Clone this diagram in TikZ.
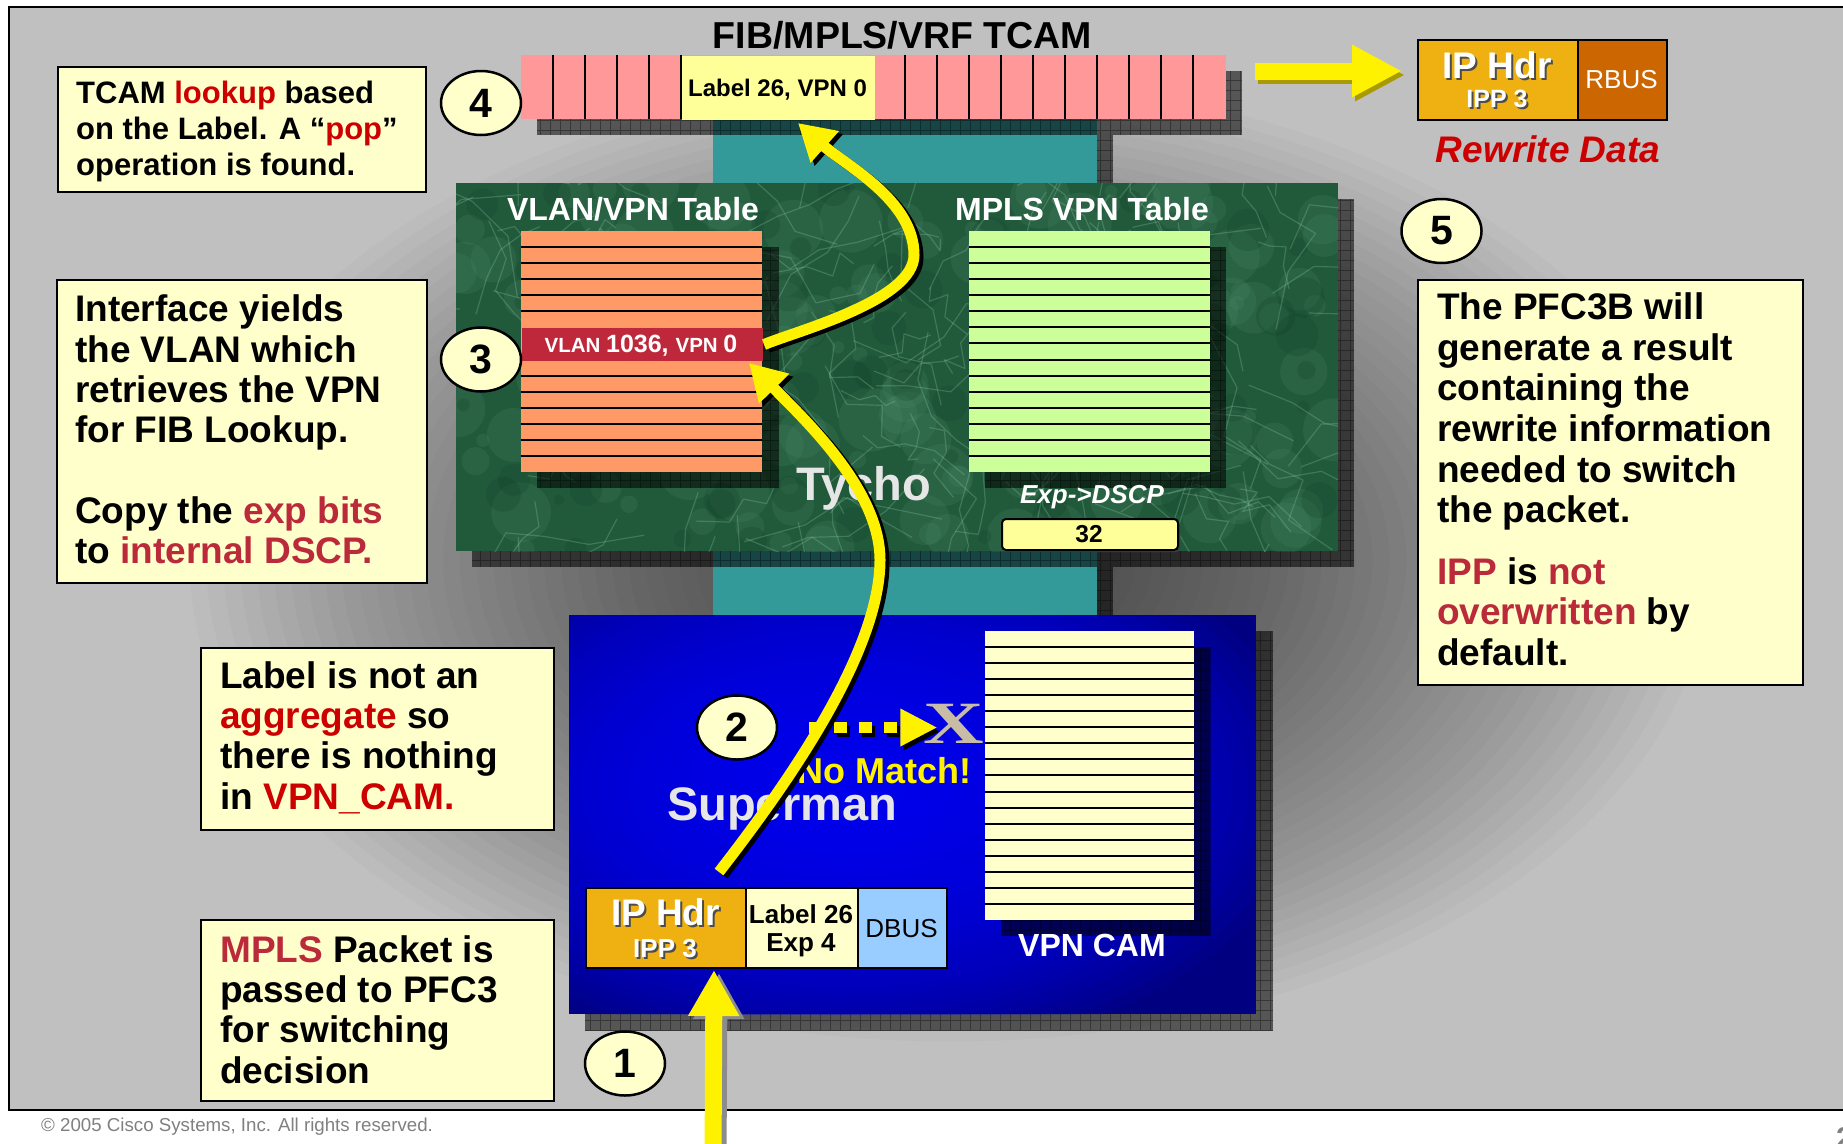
\documentclass[tikz,border=0pt]{standalone}
\usepackage{fontspec}
\usepackage{graphicx}
\setmainfont{Liberation Sans}
\newfontfamily\serifface{Liberation Serif}
\usetikzlibrary{shapes.geometric,arrows.meta,calc}

\definecolor{slidegray}{HTML}{C0C0C0}
\definecolor{notefill}{HTML}{FFFFCC}
\definecolor{channel}{HTML}{339999}
\definecolor{tcampink}{HTML}{FF9999}
\definecolor{cellyellow}{HTML}{FFFF99}
\definecolor{vlanorange}{HTML}{FF9966}
\definecolor{vlanred}{HTML}{BE283A}
\definecolor{mplsgreen}{HTML}{CCFF99}
\definecolor{hdrgold}{HTML}{EEB111}
\definecolor{rbusorange}{HTML}{CC6600}
\definecolor{dbusblue}{HTML}{99CCFF}
\definecolor{hotred}{HTML}{CC0000}
\definecolor{deepred}{HTML}{BB2A3A}
\definecolor{marble}{HTML}{215A3B}
\definecolor{marblelight}{HTML}{5FA080}
\definecolor{marbledark}{HTML}{123D26}
\definecolor{marblevein}{HTML}{8CC8A8}
\definecolor{boardtext}{HTML}{E6E6E6}
\definecolor{xtan}{HTML}{C8BCA6}
\definecolor{outshadow}{HTML}{A89A00}
\definecolor{footgray}{HTML}{808080}
\definecolor{boardnavy}{RGB}{0,0,128}
\definecolor{boardblue}{RGB}{0,0,255}

\newcommand\fs[2]{\fontsize{#1}{#2}\selectfont}
% checkered drop shadow behind a block
\newcommand\gridshade[2]{%
  \fill[black,opacity=.55] #1 rectangle #2;
  \draw[black,opacity=.35,line width=.7pt,step=10pt] #1 grid #2;}

\tikzset{
  notebox/.style={draw=black, line width=2pt, fill=notefill, anchor=north west, inner sep=0pt},
  notetext/.style={anchor=base west, inner sep=0pt, align=left, font=\bfseries\fs{37}{40.3}},
  stepnum/.style={ellipse, draw=black, line width=2.5pt, fill=notefill, minimum width=80pt,
    minimum height=64pt, inner sep=0pt, font=\bfseries\fs{41}{41}},
  cellbox/.style={draw=black, line width=2pt, anchor=north west, inner sep=0pt},
  tabline/.style={black, line width=2pt},
  basetext/.style={anchor=base, inner sep=0pt},
  leftbase/.style={anchor=base west, inner sep=0pt},
  flowline/.style={yellow, line width=11pt, -{Triangle[width=40pt,length=36pt]}},
  flowshade/.style={black, line width=11pt, -{Triangle[width=40pt,length=36pt]},
    transform canvas={shift={(4pt,-3pt)}}},
  dotflow/.style={yellow, line width=11pt, dash pattern=on 13pt off 12pt,
    -{Triangle[width=35pt,length=37pt]}},
  dotshade/.style={dotflow, black, transform canvas={shift={(3pt,-4pt)}}},
  bigflow/.style={yellow, line width=17pt, -{Triangle[width=48pt,length=46pt]}},
  bigshade/.style={bigflow, black!45, transform canvas={shift={(5pt,-3pt)}}},
  outflow/.style={yellow, line width=17pt, -{Triangle[width=49pt,length=50pt]}},
  outshade/.style={outflow, outshadow, transform canvas={shift={(3pt,-4pt)}}},
}

\begin{document}
\begin{tikzpicture}[x=1pt,y=-1pt]
\useasboundingbox (0,0) rectangle (1843,1143);
\clip (0,0) rectangle (1843,1143);
\fill[white] (0,0) rectangle (1843,1143);

% slide area with the soft shadow cast by the boards
\begin{scope}
  \clip (9,7) rectangle (1860,1110);
  \fill[slidegray] (9,7) rectangle (1860,1110);
  \foreach \k in {1,...,45}{
    \fill[black,opacity=0.019] (950,560) ellipse ({16.9pt*\k} and {10.7pt*\k});
  }
\end{scope}
\draw[line width=2.5pt] (1860,7) -- (9,7) -- (9,1110) -- (1860,1110);

% channels between the chips
\fill[channel] (713,119) rectangle (1097,183);
\fill[channel] (713,551) rectangle (1097,615);
\gridshade{(1097,135)}{(1113,183)}
\gridshade{(1097,567)}{(1113,615)}

% FIB/MPLS/VRF TCAM
\gridshade{(537,71)}{(1242,135)}
\fill[tcampink] (521,55) rectangle (1226,119);
\node[cellbox, draw=none, fill=cellyellow, minimum width=193pt, minimum height=64pt] (tcamhit) at (681,55) {};
\foreach \x in {553,585,617,649,681,905,937,...,1193} \draw[tabline] (\x,55) -- (\x,119);
\node[basetext, font=\bfseries\fs{24}{28}] (tcamtxt) at (777.5,96) {Label 26, VPN 0};
\node[basetext, font=\bfseries\fs{37.5}{40}] (tcamtitle) at (902.5,48) {FIB/MPLS/VRF TCAM};

% Tycho board
\gridshade{(472,199)}{(1354,567)}
\begin{scope}
  \clip (456,183) rectangle (1338,551);
  \fill[marble] (456,183) rectangle (1338,551);
  \pgfmathsetseed{2005}
  \foreach \i in {1,...,160}{
    \pgfmathsetmacro\ax{456+882*rnd}
    \pgfmathsetmacro\ay{183+368*rnd}
    \pgfmathsetmacro\ar{6+26*rnd}
    \fill[marblelight, opacity=0.13] (\ax,\ay) circle (\ar pt);
  }
  \foreach \i in {1,...,90}{
    \pgfmathsetmacro\ax{456+882*rnd}
    \pgfmathsetmacro\ay{183+368*rnd}
    \pgfmathsetmacro\ar{5+18*rnd}
    \fill[marbledark, opacity=0.22] (\ax,\ay) circle (\ar pt);
  }
  \foreach \i in {1,...,140}{
    \pgfmathsetmacro\ax{456+882*rnd}
    \pgfmathsetmacro\ay{183+368*rnd}
    \pgfmathsetmacro\aa{360*rnd}
    \pgfmathsetmacro\al{20+45*rnd}
    \draw[marblevein, opacity=0.28, line width=1.2pt, line join=round]
      (\ax,\ay) -- ++(\aa:\al) -- ++({\aa+80*rand}:{0.8*\al}) -- ++({\aa+80*rand}:{0.7*\al})
      -- ++({\aa+80*rand}:{0.5*\al});
  }
\end{scope}

% VLAN/VPN table
\gridshade{(537,247)}{(779,488)}
\fill[vlanorange] (521,231) rectangle (762,472);
\foreach \y in {247,263,279,295,311,376,392,408,424,440,456} \draw[tabline] (521,\y) -- (762,\y);
\node[cellbox, draw=none, fill=vlanred, minimum width=241pt, minimum height=33pt] (vlanhit) at (521,327) {};
\node[basetext, text=white, font=\bfseries] (vlantxt) at (641,352)
  {\fs{20.5}{24}VLAN \fs{25}{28}1036, \fs{20.5}{24}VPN \fs{25}{28}0};

% MPLS VPN table
\gridshade{(985,247)}{(1226,488)}
\fill[mplsgreen] (969,231) rectangle (1210,472);
\foreach \k in {1,...,14} \draw[tabline] (969,{231+16.07*\k}) -- (1210,{231+16.07*\k});

\node[basetext, text=white, font=\bfseries\fs{32}{36}] (vlantitle) at (633,220) {VLAN/VPN Table};
\node[basetext, text=white, font=\bfseries\fs{32}{36}] (mplstitle) at (1082,220) {MPLS VPN Table};
\node[leftbase, text=boardtext, font=\bfseries\fs{47}{50}] (tycho) at (796,500) {Tycho};
\node[basetext, text=white, font=\bfseries\itshape\fs{26}{30}] (expdscp) at (1092,503) {Exp->DSCP};
\fill[black!75, rounded corners=4pt] (1004,521) rectangle (1180,552);
\node[cellbox, rounded corners=4pt, fill=cellyellow, minimum width=176pt, minimum height=31pt] (dscpval) at (1001,518) {};
\node[basetext, font=\bfseries\fs{24.5}{28}] (dscptxt) at (1089,542) {32};

% Superman board: navy edges brightening to blue in the middle
\gridshade{(585,631)}{(1273,1031)}
\begin{scope}
  \clip (569,615) rectangle (1256,1014);
  \fill[boardnavy] (569,615) rectangle (1256,1014);
  \foreach \k in {30,...,1}{
    \fill[boardblue,opacity=0.075] (845,785) ellipse ({15.5pt*\k} and {9.2pt*\k});
  }
\end{scope}

% VPN CAM
\gridshade{(1001,647)}{(1210,936)}
\fill[notefill] (985,631) rectangle (1194,920);
\foreach \k in {1,...,17} \draw[tabline] (985,{631+16.05*\k}) -- (1194,{631+16.05*\k});
\node[basetext, text=white, font=\bfseries\fs{32}{36}] (camlabel) at (1092,956) {VPN CAM};

\node[leftbase, text=boardtext, font=\bfseries\fs{47}{50}] (superman) at (667,820) {Superman};
\node[leftbase, text=yellow, font=\bfseries\fs{36}{40}] (nomatch) at (797,783) {No Match!};
\node[basetext, text=xtan, font=\serifface\bfseries\fs{60}{60}] (xmark) at (954,743) {\scalebox{1.4}[1]{X}};

% incoming packet on the DBUS
\node[cellbox, fill=hdrgold, minimum width=160pt, minimum height=80pt] (pkthdr) at (585,887) {};
\node[cellbox, fill=notefill, minimum width=112pt, minimum height=80pt] (pktlabel) at (745,887) {};
\node[cellbox, fill=dbusblue, minimum width=89pt, minimum height=80pt] (pktbus) at (857,887) {};
\node[basetext, text=black!70, font=\bfseries\fs{37}{40}] (pkthdrsh) at (667.5,927) {IP Hdr};
\node[basetext, text=white, font=\bfseries\fs{37}{40}] (pkthdrtxt) at (665.5,925) {IP Hdr};
\node[basetext, text=black!70, font=\bfseries\fs{26}{30}] (pktippsh) at (667,959) {IPP 3};
\node[basetext, text=white, font=\bfseries\fs{26}{30}] (pktipp) at (665,957) {IPP 3};
\node[basetext, font=\bfseries\fs{26}{30}] (pktlbl) at (801,923) {Label 26};
\node[basetext, font=\bfseries\fs{26}{30}] (pktexp) at (801,951) {Exp 4};
\node[basetext, font=\fs{26}{30}] (pktbustxt) at (901.5,937) {DBUS};

% rewrite result on the RBUS
\node[cellbox, fill=hdrgold, minimum width=160pt, minimum height=80pt] (rwhdr) at (1417,39) {};
\node[cellbox, fill=rbusorange, minimum width=89pt, minimum height=80pt] (rwbus) at (1577,39) {};
\node[basetext, text=black!70, font=\bfseries\fs{37}{40}] (rwhdrsh) at (1499,80) {IP Hdr};
\node[basetext, text=white, font=\bfseries\fs{37}{40}] (rwhdrtxt) at (1497,78) {IP Hdr};
\node[basetext, text=black!70, font=\bfseries\fs{25}{30}] (rwippsh) at (1499,109) {IPP 3};
\node[basetext, text=white, font=\bfseries\fs{25}{30}] (rwipp) at (1497,107) {IPP 3};
\node[basetext, text=white, font=\fs{26}{30}] (rwbustxt) at (1621.5,88) {RBUS};
\node[basetext, text=hotred, font=\bfseries\itshape\fs{37}{40}] (rwcaption) at (1548,162) {Rewrite Data};

% explanatory notes (text nodes are placed by the baseline of their last line)
\node[notebox, minimum width=368pt, minimum height=125pt] (note4) at (57,66) {};
\node[notetext, font=\bfseries\fs{31}{36}] (note4txt) at (76,175)
  {TCAM \textcolor{hotred}{lookup} based\\on the Label. A “\textcolor{hotred}{pop}”\\operation is found.};
\node[notebox, minimum width=370pt, minimum height=303pt] (note3) at (56,279) {};
\node[notetext] (note3txt) at (75,563.5)
  {Interface yields\\the VLAN which\\retrieves the VPN\\for FIB Lookup.\\[40.3pt]Copy the \textcolor{deepred}{exp bits}\\to \textcolor{deepred}{internal DSCP.}};
\node[notebox, minimum width=353pt, minimum height=182pt] (note2) at (200,647) {};
\node[notetext] (note2txt) at (220,809)
  {Label is not an\\\textcolor{hotred}{aggregate} so\\there is nothing\\in \textcolor{hotred}{VPN\_CAM.}};
\node[notebox, minimum width=353pt, minimum height=181pt] (note1) at (200,919) {};
\node[notetext] (note1txt) at (220,1083)
  {\textcolor{deepred}{MPLS} Packet is\\passed to PFC3\\for switching\\decision};
\node[notebox, minimum width=385pt, minimum height=405pt] (note5) at (1417,279) {};
\node[notetext, font=\bfseries\fs{37}{40.6}] (note5txt) at (1437,665.5)
  {The PFC3B will\\generate a result\\containing the\\rewrite information\\needed to switch\\the packet.\\[21pt]\textcolor{deepred}{IPP} is \textcolor{deepred}{not}\\\textcolor{deepred}{overwritten} by\\default.};

% step markers
\node[stepnum] (c4) at (481,103) {4};
\node[stepnum] (c3) at (481,359.5) {3};
\node[stepnum] (c2) at (737,727.5) {2};
\node[stepnum] (c1) at (625,1063.5) {1};
\node[stepnum] (c5) at (1441.5,231) {5};

% packet flow
\coordinate (inlet) at (713,1160);
\coordinate (tcamout) at (1255,71);
\draw[bigshade] (inlet) -- ($(pkthdr.south)+(48,1)$);
\draw[bigflow] (inlet) -- ($(pkthdr.south)+(48,1)$);

\draw[dotshade] ($(c2.east)+(31,0)$) -- ($(c2.east -| xmark.west)+(14,0)$);
\draw[dotflow] ($(c2.east)+(31,0)$) -- ($(c2.east -| xmark.west)+(14,0)$);

\draw[flowshade] ($(pkthdr.north)+(53,-15)$) .. controls (770,806) and (880,660) .. (880,560)
  .. controls (880,490) and (805,420) .. ($(vlanhit.south east)+(-15,1)$);
\draw[flowline] ($(pkthdr.north)+(53,-15)$) .. controls (770,806) and (880,660) .. (880,560)
  .. controls (880,490) and (805,420) .. ($(vlanhit.south east)+(-15,1)$);

\draw[flowshade] (vlanhit.east) .. controls (800,330) and (914,300) .. (914,255)
  .. controls (914,200) and (845,165) .. ($(tcamhit.south)+(19.5,2)$);
\draw[flowline] (vlanhit.east) .. controls (800,330) and (914,300) .. (914,255)
  .. controls (914,200) and (845,165) .. ($(tcamhit.south)+(19.5,2)$);

\draw[outshade] (tcamout) -- ($(rwhdr.west |- tcamout)+(-15,0)$);
\draw[outflow] (tcamout) -- ($(rwhdr.west |- tcamout)+(-15,0)$);

% footer
\node[leftbase, text=footgray, font=\fs{18.7}{22}] (copyright) at (41,1131) {© 2005 Cisco Systems, Inc. All rights reserved.};
\node[leftbase, text=footgray, font=\bfseries\fs{30}{30}] (pageno) at (1836,1148) {2};
\end{tikzpicture}
\end{document}
